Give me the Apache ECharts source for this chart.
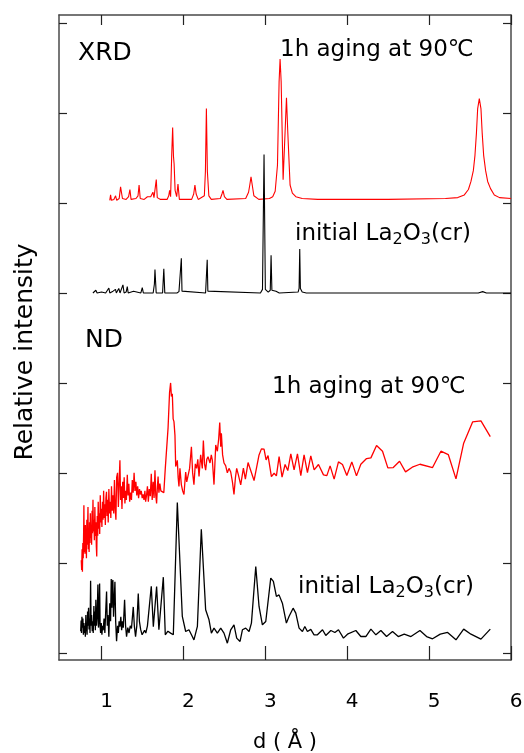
<!DOCTYPE html>
<html>
<head>
<meta charset="utf-8">
<script src="https://cdn.jsdelivr.net/npm/echarts@6/dist/echarts.min.js"></script>
<style>
    html, body { margin: 0; padding: 0; background: #fff; }
    #chart { width: 524px; height: 753px; }
</style>
</head>
<body>
<div id="chart"></div>
<script>
// Patrones de difraccion XRD / ND - La2O3

// --- datos (d en Angstrom, intensidad relativa desplazada) ---

// XRD, 1h aging at 90C (rojo)
const xrdAgedD = [1.100, 1.110, 1.120, 1.150, 1.171, 1.185, 1.215, 1.232, 1.241, 1.255, 1.300, 1.330, 1.346, 1.360,
    1.420, 1.445, 1.458, 1.472, 1.520, 1.560, 1.580, 1.600, 1.627, 1.640, 1.655, 1.668, 1.680, 1.720, 1.800, 1.820,
    1.831, 1.843, 1.856, 1.868, 1.878, 1.886, 1.898, 1.917, 1.933, 1.950, 2.100, 2.125, 2.140, 2.155, 2.180, 2.255,
    2.268, 2.280, 2.292, 2.310, 2.340, 2.450, 2.470, 2.483, 2.500, 2.530, 2.760, 2.795, 2.810, 2.825, 2.840, 2.860,
    2.920, 3.050, 3.090, 3.120, 3.148, 3.168, 3.180, 3.193, 3.217, 3.241, 3.258, 3.274, 3.302, 3.330, 3.372, 3.450,
    3.640, 4.500, 5.200, 5.350, 5.430, 5.480, 5.511, 5.540, 5.560, 5.578, 5.593, 5.613, 5.633, 5.648, 5.666, 5.690,
    5.715, 5.750, 5.796, 5.860, 6.000];
const xrdAgedI = [5.03, 5.09, 5.03, 5.04, 5.08, 5.03, 5.05, 5.18, 5.19, 5.05, 5.04, 5.07, 5.15, 5.04,
    5.05, 5.08, 5.20, 5.05, 5.04, 5.07, 5.05, 5.07, 5.12, 5.06, 5.08, 5.26, 5.06, 5.04, 5.04, 5.08,
    5.14, 5.07, 5.52, 5.84, 5.52, 5.43, 5.14, 5.07, 5.21, 5.04, 5.04, 5.10, 5.20, 5.10, 5.04, 5.08,
    5.35, 6.05, 5.35, 5.08, 5.04, 5.05, 5.10, 5.14, 5.07, 5.04, 5.05, 5.12, 5.20, 5.29, 5.20, 5.08,
    5.04, 5.05, 5.07, 5.13, 5.42, 6.35, 6.60, 6.35, 5.26, 5.79, 6.17, 5.79, 5.20, 5.11, 5.07, 5.05,
    5.04, 5.04, 5.05, 5.06, 5.09, 5.15, 5.24, 5.36, 5.53, 5.78, 6.05, 6.16, 6.05, 5.78, 5.53, 5.36,
    5.24, 5.16, 5.09, 5.06, 5.05];

// XRD, initial La2O3(cr) (negro)
const xrdInitD = [0.894, 0.930, 0.945, 1.000, 1.050, 1.089, 1.100, 1.140, 1.170, 1.180, 1.210, 1.225, 1.245, 1.261,
    1.275, 1.300, 1.314, 1.325, 1.390, 1.400, 1.480, 1.497, 1.510, 1.630, 1.645, 1.652, 1.660, 1.667, 1.700, 1.745,
    1.760, 1.772, 1.920, 1.945, 1.960, 1.966, 1.974, 1.982, 1.990, 2.270, 2.282, 2.290, 2.298, 2.310, 2.940, 2.965,
    2.984, 3.000, 3.035, 3.060, 3.070, 3.080, 3.100, 3.130, 3.170, 3.400, 3.412, 3.420, 3.428, 3.450, 3.500, 5.600,
    5.654, 5.700, 6.000];
const xrdInitI = [4.00, 4.03, 4.00, 4.01, 4.00, 4.055, 4.00, 4.02, 4.04, 4.00, 4.05, 4.00, 4.01, 4.09,
    4.00, 4.01, 4.07, 4.00, 4.02, 4.00, 4.00, 4.06, 4.00, 4.00, 4.10, 4.26, 4.12, 4.00, 4.00, 4.00,
    4.27, 4.00, 4.00, 4.015, 4.00, 4.02, 4.385, 4.02, 4.00, 4.00, 4.02, 4.37, 4.02, 4.00, 4.00, 4.04,
    5.54, 4.04, 4.01, 4.03, 4.42, 4.03, 4.01, 4.02, 4.00, 4.01, 4.05, 4.49, 4.05, 4.01, 4.00, 4.00,
    4.015, 4.00, 4.00];

// ND, 1h aging at 90C (rojo)
const ndAgedD = [0.752, 0.757, 0.762, 0.766, 0.771, 0.776, 0.781, 0.784, 0.788, 0.793, 0.797, 0.802, 0.806, 0.811,
    0.815, 0.820, 0.824, 0.829, 0.834, 0.838, 0.843, 0.848, 0.853, 0.858, 0.863, 0.868, 0.873, 0.878, 0.884, 0.889,
    0.895, 0.900, 0.906, 0.912, 0.918, 0.924, 0.930, 0.936, 0.941, 0.947, 0.953, 0.959, 0.965, 0.971, 0.977, 0.984,
    0.990, 0.997, 1.004, 1.011, 1.018, 1.025, 1.032, 1.039, 1.046, 1.053, 1.060, 1.067, 1.074, 1.081, 1.089, 1.097,
    1.105, 1.113, 1.121, 1.130, 1.139, 1.148, 1.157, 1.166, 1.175, 1.184, 1.195, 1.205, 1.214, 1.224, 1.232, 1.240,
    1.249, 1.258, 1.267, 1.276, 1.285, 1.294, 1.303, 1.314, 1.323, 1.333, 1.343, 1.354, 1.365, 1.375, 1.386, 1.397,
    1.408, 1.419, 1.430, 1.441, 1.452, 1.463, 1.474, 1.485, 1.496, 1.507, 1.518, 1.529, 1.538, 1.549, 1.560, 1.571,
    1.582, 1.595, 1.607, 1.618, 1.630, 1.641, 1.652, 1.662, 1.672, 1.682, 1.690, 1.700, 1.712, 1.724, 1.742, 1.760,
    1.778, 1.795, 1.812, 1.830, 1.843, 1.853, 1.864, 1.874, 1.884, 1.896, 1.905, 1.915, 1.925, 1.935, 1.945, 1.957,
    1.974, 1.990, 2.006, 2.027, 2.040, 2.055, 2.075, 2.097, 2.112, 2.128, 2.145, 2.161, 2.175, 2.190, 2.210, 2.230,
    2.243, 2.257, 2.271, 2.285, 2.300, 2.324, 2.340, 2.353, 2.373, 2.394, 2.414, 2.430, 2.443, 2.455, 2.463, 2.478,
    2.495, 2.515, 2.536, 2.556, 2.577, 2.598, 2.617, 2.635, 2.650, 2.670, 2.699, 2.732, 2.756, 2.789, 2.813, 2.862,
    2.923, 2.952, 2.984, 3.009, 3.033, 3.074, 3.107, 3.135, 3.168, 3.204, 3.241, 3.274, 3.311, 3.351, 3.392, 3.433,
    3.473, 3.514, 3.555, 3.596, 3.649, 3.710, 3.751, 3.791, 3.840, 3.893, 3.942, 3.995, 4.056, 4.113, 4.166, 4.236,
    4.289, 4.358, 4.431, 4.496, 4.562, 4.639, 4.712, 4.794, 4.888, 5.042, 5.144, 5.234, 5.328, 5.422, 5.531, 5.633,
    5.747];
const ndAgedI = [1.03, 0.92, 1.15, 0.90, 1.22, 1.05, 1.35, 1.64, 1.12, 1.30, 1.10, 1.42, 1.18, 1.25,
    1.05, 1.48, 1.20, 1.38, 1.62, 1.15, 1.30, 1.12, 1.45, 1.22, 1.55, 1.28, 1.40, 1.20, 1.58, 1.33,
    1.70, 1.35, 1.48, 1.25, 1.62, 1.30, 1.45, 1.18, 1.07, 1.52, 1.30, 1.68, 1.38, 1.55, 1.32, 1.75,
    1.45, 1.60, 1.40, 1.68, 1.48, 1.80, 1.50, 1.65, 1.42, 1.72, 1.79, 1.52, 1.70, 1.45, 1.82, 1.55,
    1.68, 1.50, 1.85, 1.58, 1.75, 1.55, 1.92, 1.60, 1.48, 1.95, 2.00, 1.62, 1.88, 2.14, 1.70, 1.85,
    1.60, 1.90, 1.72, 1.95, 1.66, 1.80, 1.70, 1.98, 1.75, 1.88, 1.68, 1.78, 1.70, 1.92, 1.78, 2.00,
    1.80, 1.90, 1.75, 1.85, 1.72, 1.82, 1.76, 1.80, 1.72, 1.76, 1.70, 1.80, 1.68, 1.75, 1.85, 1.68,
    1.82, 1.74, 1.99, 1.70, 1.90, 1.72, 2.03, 1.75, 1.66, 1.85, 1.96, 1.78, 1.88, 1.80, 1.81, 1.78,
    2.05, 2.06, 2.50, 2.89, 3.00, 2.85, 2.88, 2.60, 2.57, 2.42, 2.07, 2.10, 2.14, 1.95, 1.85, 2.05,
    1.87, 1.80, 1.76, 2.01, 1.90, 1.92, 2.05, 2.29, 2.00, 1.87, 2.10, 2.05, 2.15, 1.96, 2.20, 2.05,
    2.36, 2.10, 2.03, 2.15, 2.18, 2.11, 2.20, 2.14, 1.87, 2.31, 2.24, 2.38, 2.56, 2.29, 2.44, 2.20,
    2.11, 2.08, 2.00, 2.05, 2.01, 1.90, 1.76, 1.95, 2.05, 1.98, 1.867, 2.052, 1.93, 2.115, 2.126, 1.915,
    2.20, 2.267, 2.263, 2.144, 2.193, 1.959, 1.996, 1.967, 2.181, 1.952, 2.093, 2.026, 2.211, 2.033, 2.211, 1.97,
    2.20, 2.004, 2.189, 2.033, 2.093, 1.978, 1.97, 2.078, 1.93, 2.122, 2.093, 1.97, 2.122, 1.967, 2.096, 2.159,
    2.167, 2.304, 2.241, 2.056, 2.059, 2.13, 2.011, 2.063, 2.096, 2.059, 2.241, 2.204, 1.933, 2.33, 2.567, 2.578,
    2.404];

// ND, initial La2O3(cr) (negro)
const ndInitD = [0.745, 0.750, 0.755, 0.760, 0.766, 0.772, 0.778, 0.784, 0.790, 0.796, 0.802, 0.808, 0.812, 0.817,
    0.823, 0.829, 0.835, 0.841, 0.847, 0.853, 0.859, 0.866, 0.872, 0.878, 0.886, 0.892, 0.898, 0.906, 0.912, 0.918,
    0.924, 0.930, 0.938, 0.946, 0.955, 0.962, 0.968, 0.976, 0.982, 0.988, 0.996, 1.004, 1.012, 1.020, 1.030, 1.040,
    1.050, 1.061, 1.070, 1.078, 1.089, 1.100, 1.110, 1.118, 1.126, 1.132, 1.138, 1.146, 1.155, 1.163, 1.172, 1.183,
    1.195, 1.205, 1.214, 1.224, 1.235, 1.245, 1.255, 1.265, 1.281, 1.293, 1.305, 1.320, 1.335, 1.350, 1.365, 1.387,
    1.400, 1.415, 1.430, 1.448, 1.462, 1.477, 1.495, 1.509, 1.525, 1.540, 1.560, 1.580, 1.607, 1.632, 1.672, 1.700,
    1.754, 1.778, 1.810, 1.843, 1.876, 1.925, 1.986, 2.027, 2.067, 2.108, 2.128, 2.170, 2.218, 2.271, 2.312, 2.341,
    2.373, 2.414, 2.455, 2.495, 2.536, 2.577, 2.617, 2.650, 2.691, 2.720, 2.760, 2.801, 2.830, 2.883, 2.923, 2.964,
    3.005, 3.025, 3.066, 3.098, 3.135, 3.167, 3.208, 3.257, 3.289, 3.339, 3.372, 3.412, 3.453, 3.482, 3.514, 3.555,
    3.595, 3.636, 3.698, 3.738, 3.800, 3.849, 3.893, 3.954, 4.003, 4.105, 4.166, 4.227, 4.289, 4.350, 4.411, 4.480,
    4.553, 4.623, 4.696, 4.778, 4.888, 4.969, 5.042, 5.136, 5.226, 5.328, 5.422, 5.511, 5.633, 5.747];
const ndInitI = [0.24, 0.36, 0.22, 0.40, 0.28, 0.38, 0.20, 0.33, 0.22, 0.30, 0.18, 0.42, 0.25, 0.29,
    0.20, 0.46, 0.30, 0.50, 0.26, 0.38, 0.22, 0.80, 0.30, 0.42, 0.24, 0.35, 0.22, 0.52, 0.30, 0.46,
    0.25, 0.59, 0.30, 0.40, 0.76, 0.28, 0.36, 0.77, 0.30, 0.22, 0.33, 0.20, 0.30, 0.25, 0.38, 0.22,
    0.45, 0.68, 0.30, 0.42, 0.18, 0.55, 0.35, 0.82, 0.50, 0.78, 0.81, 0.40, 0.60, 0.79, 0.35, 0.13,
    0.30, 0.22, 0.35, 0.29, 0.40, 0.25, 0.35, 0.28, 0.59, 0.30, 0.18, 0.28, 0.22, 0.30, 0.27, 0.51,
    0.30, 0.18, 0.30, 0.66, 0.35, 0.26, 0.20, 0.18, 0.25, 0.22, 0.30, 0.28, 0.74, 0.29, 0.737, 0.256,
    0.841, 0.20, 0.24, 0.219, 0.20, 1.67, 0.404, 0.237, 0.256, 0.181, 0.144, 0.293, 1.374, 0.478, 0.367, 0.219,
    0.274, 0.219, 0.274, 0.219, 0.107, 0.256, 0.311, 0.163, 0.126, 0.256, 0.274, 0.237, 0.33, 0.959, 0.515, 0.311,
    0.348, 0.33, 0.83, 0.793, 0.626, 0.644, 0.552, 0.33, 0.404, 0.496, 0.441, 0.274, 0.237, 0.293, 0.237, 0.26,
    0.20, 0.20, 0.256, 0.193, 0.248, 0.226, 0.256, 0.163, 0.207, 0.248, 0.181, 0.181, 0.263, 0.20, 0.248, 0.181,
    0.237, 0.181, 0.207, 0.181, 0.248, 0.181, 0.156, 0.207, 0.226, 0.144, 0.263, 0.207, 0.152, 0.263];

// marcas de los ejes
const xTicks = [1, 2, 3, 4, 5, 6];
const yTicks = [0, 1, 2, 3, 4, 5, 6, 7];

const fontFam = '"DejaVu Sans", sans-serif';
const frameColor = '#4a4a4a';

function pairs(xs, ys) {
    return xs.map((x, i) => [x, ys[i]]);
}

function lineSeries(name, xs, ys, color, width) {
    return {
        name: name,
        type: 'line',
        data: pairs(xs, ys),
        showSymbol: false,
        symbol: 'none',
        lineStyle: { color: color, width: width },
        z: 3
    };
}

const chart = echarts.init(document.getElementById('chart'), null, { renderer: 'canvas' });

const axisBase = {
    type: 'value',
    splitLine: { show: false },
    axisLine: { show: true, onZero: false, lineStyle: { color: frameColor, width: 1.5 } }
};

const option = {
    animation: false,
    backgroundColor: '#fff',
    grid: { left: 59, top: 15, width: 452, height: 645, containLabel: false, outerBoundsMode: 'none' },
    xAxis: [
        Object.assign({}, axisBase, {
            position: 'bottom',
            min: 0.48, max: 6,
            axisTick: { show: true, inside: true, length: 14, customValues: xTicks, lineStyle: { color: '#222', width: 1.2 } },
            axisLabel: { show: true, customValues: xTicks, fontSize: 20, fontFamily: fontFam, color: '#000', margin: 32, padding: [0, 0, 0, 10] },
            name: 'd ( Å )',
            nameLocation: 'middle',
            nameGap: 72,
            nameTextStyle: { fontSize: 21, fontFamily: fontFam, color: '#000' }
        }),
        Object.assign({}, axisBase, {
            position: 'top',
            min: 0.48, max: 6,
            axisTick: { show: true, inside: true, length: 10, customValues: xTicks, lineStyle: { color: '#222', width: 1.2 } },
            axisLabel: { show: false }
        })
    ],
    yAxis: [
        Object.assign({}, axisBase, {
            position: 'left',
            min: -0.08, max: 7.09,
            axisTick: { show: true, inside: true, length: 8, customValues: yTicks, lineStyle: { color: '#222', width: 1.2 } },
            axisLabel: { show: false }
        }),
        Object.assign({}, axisBase, {
            position: 'right',
            min: -0.08, max: 7.09,
            axisTick: { show: true, inside: true, length: 8, customValues: yTicks, lineStyle: { color: '#222', width: 1.2 } },
            axisLabel: { show: false }
        })
    ],
    graphic: [
        { type: 'text', x: 25, y: 352, rotation: Math.PI / 2,
          style: { text: 'Relative intensity', font: '25px ' + fontFam, fill: '#000', align: 'center', verticalAlign: 'middle' } },
        { type: 'text', x: 78, y: 53,
          style: { text: 'XRD', font: '25px ' + fontFam, fill: '#000', align: 'left', verticalAlign: 'middle' } },
        { type: 'text', x: 280, y: 50,
          style: { text: '1h aging at 90℃', font: '23px ' + fontFam, fill: '#000', align: 'left', verticalAlign: 'middle' } },
        { type: 'text', x: 295, y: 234,
          style: { text: '{a|initial La}{b|2}{a|O}{b|3}{a|(cr)}', align: 'left', verticalAlign: 'middle',
                   rich: { a: { fontSize: 23, fontFamily: fontFam, lineHeight: 28, fill: '#000' },
                           b: { fontSize: 16, fontFamily: fontFam, lineHeight: 11, verticalAlign: 'bottom', fill: '#000' } } } },
        { type: 'text', x: 85, y: 340,
          style: { text: 'ND', font: '25px ' + fontFam, fill: '#000', align: 'left', verticalAlign: 'middle' } },
        { type: 'text', x: 272, y: 387,
          style: { text: '1h aging at 90℃', font: '23px ' + fontFam, fill: '#000', align: 'left', verticalAlign: 'middle' } },
        { type: 'text', x: 298, y: 587,
          style: { text: '{a|initial La}{b|2}{a|O}{b|3}{a|(cr)}', align: 'left', verticalAlign: 'middle',
                   rich: { a: { fontSize: 23, fontFamily: fontFam, lineHeight: 28, fill: '#000' },
                           b: { fontSize: 16, fontFamily: fontFam, lineHeight: 11, verticalAlign: 'bottom', fill: '#000' } } } }
    ],
    series: [
        lineSeries('XRD 1h aging', xrdAgedD, xrdAgedI, '#ff0000', 1.1),
        lineSeries('XRD initial', xrdInitD, xrdInitI, '#000000', 1.1),
        lineSeries('ND 1h aging', ndAgedD, ndAgedI, '#ff0000', 1.3),
        lineSeries('ND initial', ndInitD, ndInitI, '#000000', 1.3)
    ]
};

chart.setOption(option);
</script>
</body>
</html>
